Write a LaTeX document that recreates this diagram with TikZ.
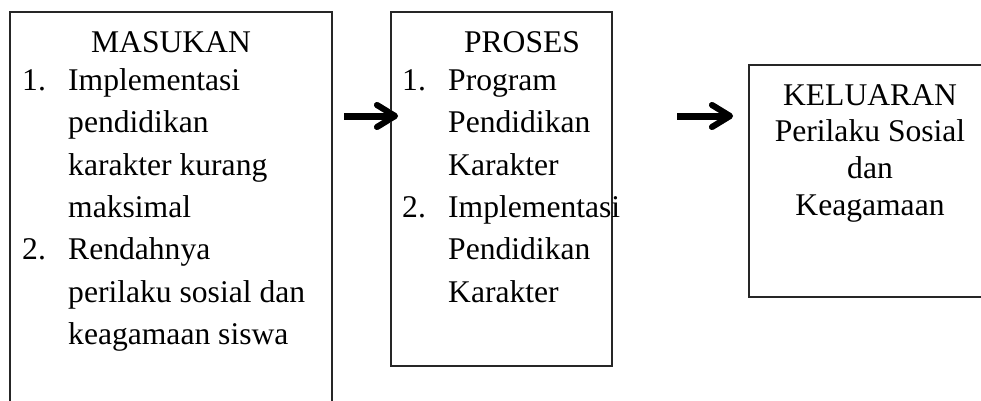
\documentclass[tikz,border=0pt]{standalone}
\usepackage{fontspec}
\setmainfont{Liberation Serif}
\usetikzlibrary{calc}
\begin{document}
\begin{tikzpicture}[x=1pt,y=-1pt,
  box/.style={draw=black!85,line width=1.1pt},
  txt/.style={inner sep=0pt,anchor=base west,font=\fontsize{31.6}{38}\selectfont},
  ttl/.style={inner sep=0pt,anchor=base,font=\fontsize{31.6}{38}\selectfont},
  arrowshaft/.style={line width=7pt},
  arrowhead/.style={line width=6pt,line cap=round,line join=round}]
\useasboundingbox (0,0) rectangle (981,400);
\clip (0,0) rectangle (981,400);
\fill[white] (0,0) rectangle (981,400);
% boxes
\coordinate (b1a) at (10,12);  \coordinate (b1b) at (332,420);
\coordinate (b2a) at (391,12); \coordinate (b2b) at (612,366);
\coordinate (b3a) at (749,65); \coordinate (b3b) at (995,297);
\draw[box] (b1a) rectangle (b1b);
\draw[box] (b2a) rectangle (b2b);
\draw[box] (b3a) rectangle (b3b);
% box 1 text
\node[ttl] (t1) at (171,52) {MASUKAN};
\node[txt] (n11) at (22,90.5) {1.};
\node[txt] (n12) at (22,259.7) {2.};
\foreach \y/\s [count=\i] in {90.5/Implementasi,132.8/pendidikan,175.1/karakter kurang,217.4/maksimal,259.7/Rendahnya,302/perilaku sosial dan,344.3/keagamaan siswa}
  \node[txt] (l1\i) at (68,\y) {\s};
% box 2 text
\node[ttl] (t2) at (522,52) {PROSES};
\node[txt] (n21) at (402,90.5) {1.};
\node[txt] (n22) at (402,217.4) {2.};
\foreach \y/\s [count=\i] in {90.5/Program,132.8/Pendidikan,175.1/Karakter,217.4/Implementasi,259.7/Pendidikan,302/Karakter}
  \node[txt] (l2\i) at (448,\y) {\s};
% box 3 text
\foreach \y/\s [count=\i] in {105/KELUARAN,141.7/Perilaku Sosial,178.4/dan,215/Keagamaan}
  \node[ttl] (l3\i) at (870,\y) {\s};
% arrows (shadow then arrow)
\coordinate (a1s) at (344,116); \coordinate (a1t) at (395,116);
\coordinate (a2s) at (677,116); \coordinate (a2t) at (730,116);
\foreach \s/\t in {a1s/a1t,a2s/a2t}{
  \begin{scope}[shift={(2,3)},black!45]
    \draw[arrowshaft] (\s) -- ($(\t)+(-4,0)$);
    \draw[arrowhead] ($(\t)+(-18,-11)$) -- (\t) -- ($(\t)+(-18,11)$);
  \end{scope}
  \draw[arrowshaft] (\s) -- ($(\t)+(-4,0)$);
  \draw[arrowhead] ($(\t)+(-18,-11)$) -- (\t) -- ($(\t)+(-18,11)$);
}
\end{tikzpicture}
\end{document}
